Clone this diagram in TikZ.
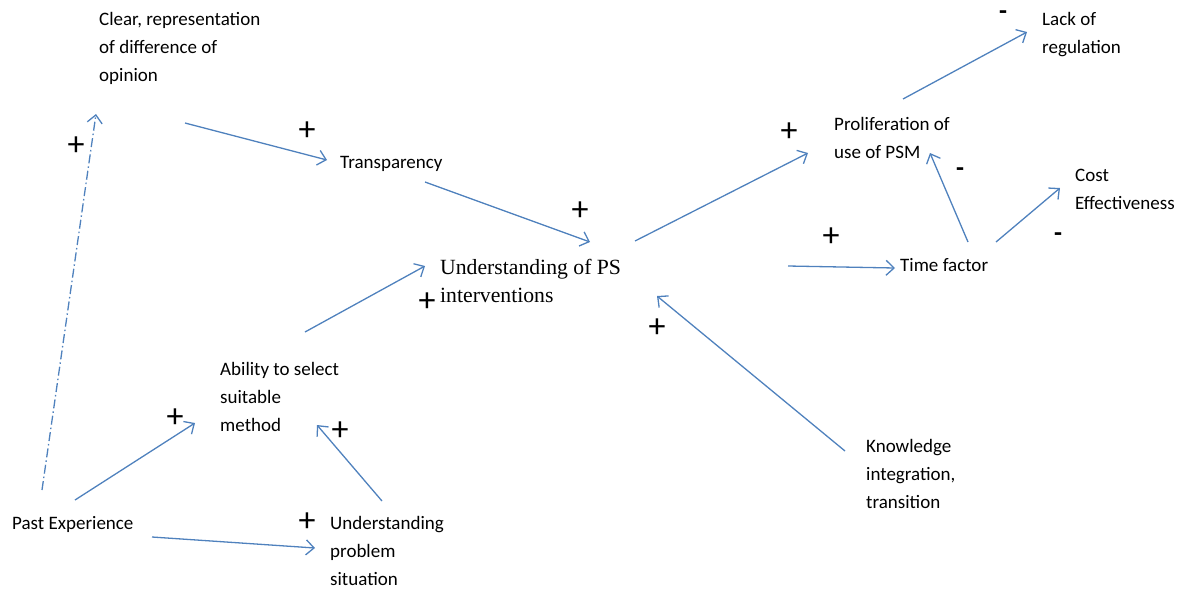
\documentclass[tikz,border=0pt]{standalone}
\usepackage{fontspec}
\setmainfont{Carlito}
\newfontfamily\serifcentral{Liberation Serif}
\usetikzlibrary{arrows.meta}
\definecolor{arrowblue}{RGB}{79,129,189}
\tikzset{
  lbl/.style={anchor=base west, align=left, inner sep=0pt, font=\fontsize{19}{28}\selectfont},
  central/.style={anchor=base west, align=left, inner sep=0pt, font=\serifcentral\fontsize{21.7}{28}\selectfont},
  link/.style={draw=arrowblue, line width=1.3pt, -{Straight Barb[length=8pt,width=15pt,line width=1.3pt]}},
  dashlink/.style={link, dash pattern=on 9pt off 3pt on 1.5pt off 3pt},
  sgn/.style={inner sep=0pt, font=\fontsize{34}{34}\selectfont},
  msgn/.style={inner sep=0pt, font=\bfseries\fontsize{26}{26}\selectfont},
}
\begin{document}
\begin{tikzpicture}[x=1pt,y=-1pt]
\useasboundingbox (0,0) rectangle (1183,590);
% nodes (anchor: baseline of the last line)
\node[lbl] (clear) at (99,81) {Clear, representation\\of difference of\\opinion};
\node[lbl] (transp) at (340,168) {Transparency};
\node[central] (under) at (440,302) {Understanding of PS\\interventions};
\node[lbl] (prolif) at (834,158) {Proliferation of\\use of PSM};
\node[lbl] (lack) at (1042,53) {Lack of\\regulation};
\node[lbl] (cost) at (1075,209) {Cost\\Effectiveness};
\node[lbl] (time) at (900,271) {Time factor};
\node[lbl] (ability) at (220,431) {Ability to select\\suitable\\method};
\node[lbl] (know) at (866,508) {Knowledge\\integration,\\transition};
\node[lbl] (past) at (12,529) {Past Experience};
\node[lbl] (upro) at (330,585) {Understanding\\problem\\situation};
% connector end points
\coordinate (pastA) at (42,490);   \coordinate (clearB) at (96,114);
\coordinate (clearA) at (185,123); \coordinate (transpB) at (327,160);
\coordinate (transpA) at (425,182);\coordinate (underB1) at (590,242);
\coordinate (abilA) at (305,332);  \coordinate (underB2) at (425,266);
\coordinate (pastB) at (75,500);   \coordinate (abilB1) at (195,423);
\coordinate (pastC) at (152,537);  \coordinate (uproB) at (315,548);
\coordinate (uproA) at (382,501);  \coordinate (abilB2) at (317,425);
\coordinate (knowA) at (845,451);  \coordinate (underB3) at (657,296);
\coordinate (underA1) at (635,241);\coordinate (prolifB1) at (808,153);
\coordinate (underA2) at (788,266);\coordinate (timeB) at (895,268);
\coordinate (prolifA) at (903,99); \coordinate (lackB) at (1027,32);
\coordinate (timeA1) at (968,242); \coordinate (prolifB2) at (930,153);
\coordinate (timeA2) at (996,242); \coordinate (costB) at (1060,188);
% connectors
\draw[dashlink] (pastA) -- (clearB);
\draw[link] (clearA) -- (transpB);
\draw[link] (transpA) -- (underB1);
\draw[link] (abilA) -- (underB2);
\draw[link] (pastB) -- (abilB1);
\draw[link] (pastC) -- (uproB);
\draw[link] (uproA) -- (abilB2);
\draw[link] (knowA) -- (underB3);
\draw[link] (underA1) -- (prolifB1);
\draw[link] (underA2) -- (timeB);
\draw[link] (prolifA) -- (lackB);
\draw[link] (timeA1) -- (prolifB2);
\draw[link] (timeA2) -- (costB);
% signs
\node[sgn] (s1) at (76,146) {+};
\node[sgn] (s2) at (307,131) {+};
\node[sgn] (s3) at (580,211) {+};
\node[sgn] (s4) at (427,302) {+};
\node[sgn] (s5) at (175,418) {+};
\node[sgn] (s6) at (340,431) {+};
\node[sgn] (s7) at (307,522) {+};
\node[sgn] (s8) at (657,328) {+};
\node[sgn] (s9) at (789,132) {+};
\node[sgn] (s10) at (831,237) {+};
\node[msgn] (m1) at (1003,15) {-};
\node[msgn] (m2) at (960,172) {-};
\node[msgn] (m3) at (1058,237) {-};
\end{tikzpicture}
\end{document}
